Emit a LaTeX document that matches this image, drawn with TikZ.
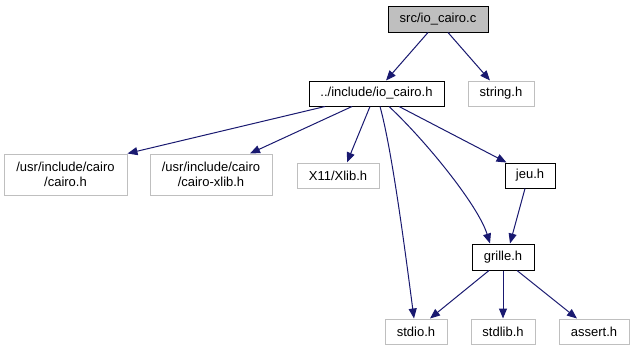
\documentclass[tikz,border=0pt]{standalone}
\usepackage{fontspec}
\setmainfont{Liberation Sans}
\usetikzlibrary{arrows.meta,calc}
\definecolor{edgeblue}{RGB}{25,25,112}
\definecolor{extgray}{RGB}{191,191,191}
\begin{document}
\begin{tikzpicture}[x=1pt,y=-1pt,
  every node/.style={font=\fontsize{13}{15}\selectfont, inner sep=0pt, align=center},
  filebox/.style={draw=black, line width=1pt, fill=white, rectangle},
  extbox/.style={draw=extgray, line width=1pt, fill=white, rectangle},
  curbox/.style={draw=black, line width=1pt, fill=extgray, rectangle},
  dep/.style={draw=edgeblue, line width=1pt,
    -{Triangle[length=10pt,width=8pt]}, edgeblue}]
  \useasboundingbox (0,0) rectangle (634,351);

  % header nodes
  \node[curbox, minimum width=100pt, minimum height=26pt] (src) at (438,19) {src/io\_cairo.c};
  \node[filebox, minimum width=135pt, minimum height=25pt] (io) at (376.5,93.5) {../include/io\_cairo.h};
  \node[extbox, minimum width=66pt, minimum height=25pt] (string) at (501,93.5) {string.h};
  \node[extbox, minimum width=123pt, minimum height=41pt] (cairo) at (65.5,174.5) {/usr/include/cairo\\/cairo.h};
  \node[extbox, minimum width=122pt, minimum height=41pt] (cairoxlib) at (211,174.5) {/usr/include/cairo\\/cairo-xlib.h};
  \node[extbox, minimum width=82pt, minimum height=25pt] (xlib) at (338,175.5) {X11/Xlib.h};
  \node[filebox, minimum width=50pt, minimum height=25pt] (jeu) at (530,175.5) {jeu.h};
  \node[filebox, minimum width=62pt, minimum height=26pt] (grille) at (503,257) {grille.h};
  \node[extbox, minimum width=62pt, minimum height=25pt] (stdio) at (416,331.5) {stdio.h};
  \node[extbox, minimum width=64pt, minimum height=25pt] (stdlib) at (503,331.5) {stdlib.h};
  \node[extbox, minimum width=70pt, minimum height=25pt] (assert) at (594,331.5) {assert.h};

  % include edges
  \draw[dep] ($(src.south)+(-10,0)$) -- ($(io.north)+(9.5,0)$);
  \draw[dep] ($(src.south)+(10,0)$) -- ($(string.north)+(-11,0)$);
  \draw[dep] ($(io.south)+(-51.5,0)$) -- (cairo.north east);
  \draw[dep] ($(io.south)+(-24.5,0)$) -- ($(cairoxlib.north)+(39,0)$);
  \draw[dep] ($(io.south)+(-6.5,0)$) -- ($(xlib.north)+(9,0)$);
  \draw[dep] ($(io.south)+(3.5,0)$) .. controls (392,150) and (405,250) .. ($(stdio.north)+(-2,0)$);
  \draw[dep] ($(io.south)+(12.5,0)$) .. controls (425,140) and (478,205) .. ($(grille.north)+(-13,0)$);
  \draw[dep] ($(io.south)+(22.5,0)$) -- ($(jeu.north west)+(2,0)$);
  \draw[dep] ($(jeu.south)+(-5,0)$) -- ($(grille.north)+(7,0)$);
  \draw[dep] ($(grille.south)+(-14,0)$) -- ($(stdio.north)+(14,0)$);
  \draw[dep] (grille.south) -- (stdlib.north);
  \draw[dep] ($(grille.south)+(14,0)$) -- ($(assert.north)+(-17,0)$);
\end{tikzpicture}
\end{document}
